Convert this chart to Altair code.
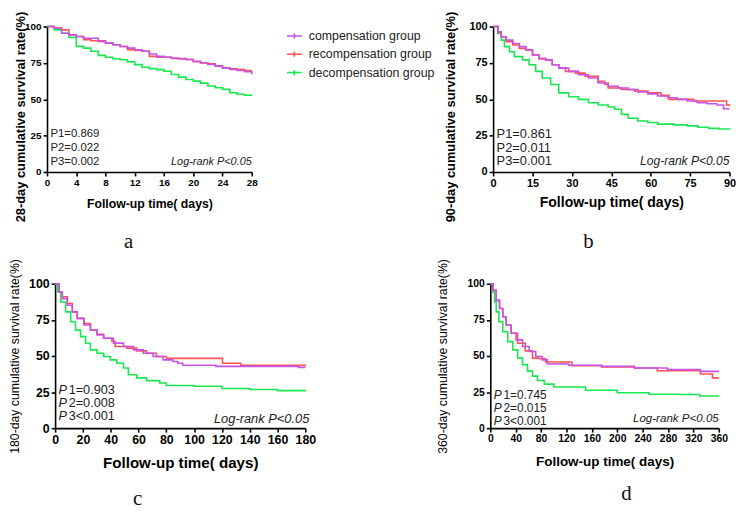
import altair as alt
import pandas as pd

GROUPS = ["compensation group", "recompensation group", "decompensation group"]
COLORS = ["#C652E8", "#FF5252", "#17E84F"]
XTITLE = "Follow-up time( days)"

# ---- panel a : 28-day ----
a_t = list(range(29))
a_comp = [100, 98.8, 95.4, 94.3, 93.2, 92, 92, 89.8, 88.6, 87.5, 86.3, 85.2, 84.1, 83, 81.1, 79.5,
          78.9, 78.4, 78, 77.3, 76.2, 75.1, 73.9, 72.8, 71.6, 70.5, 69.8, 68.9, 67.1]
a_recomp = [100, 99, 97.7, 94.3, 93.2, 90.9, 90.2, 90.2, 88.6, 87.5, 86.3, 84.1, 83.6, 83, 79.5, 78.9,
            78.9, 78, 77.7, 77.3, 75.8, 75, 74.4, 73, 71.6, 71, 70.5, 69.8, 69.8]
a_decomp = [100, 97.7, 95.4, 92.5, 86.4, 85.2, 83, 80.2, 78.9, 77.9, 77.2, 75.7, 73.8, 72, 71.1, 70.4,
            69.3, 67, 65.2, 63.6, 62.5, 61.1, 59.1, 57.9, 56.8, 54.5, 53.4, 52.8, 52.3]
a_p = ["P1=0.869", "P2=0.022", "P3=0.002"]

# ---- panel b : 90-day ----
b_comp_t = [0, 1.8, 3.1, 5, 7.5, 10, 12.5, 15, 17.5, 20, 22.5, 25, 28.8, 32.5, 36.3, 40, 43.8, 47.6,
            51.4, 55.1, 58.9, 62.6, 66.4, 70.2, 73.9, 77.7, 81.5, 85.2, 87.7, 90]
b_comp_s = [100, 96.4, 93, 90.7, 88.4, 86.2, 83.9, 80.5, 78.2, 77.1, 73.7, 71.4, 69.2, 66.9, 64.6, 61.2,
            59, 57.8, 56.7, 55.1, 53.7, 52.2, 51, 49.9, 48.8, 47.6, 46.9, 46, 43.5, 43.5]
b_recomp_t = [0, 1.8, 3.1, 5, 7.5, 10, 12.5, 15, 17.5, 20, 22.5, 25, 27.5, 31.3, 35, 40, 42.5, 43.8,
              48.8, 53.9, 58.9, 63.9, 67, 76.4, 88.9, 90]
b_recomp_s = [100, 96, 93, 89.6, 87.3, 85, 83.9, 80.5, 77.8, 77.1, 73.7, 71.4, 69.2, 68, 65.8, 62.4,
              60.1, 57.8, 56.7, 55.6, 54.4, 52.8, 49.9, 48.8, 46, 45.4]
b_decomp_t = [0, 1.8, 3.1, 4.3, 6.2, 8.1, 11.2, 13.7, 16.2, 18.7, 21.9, 25, 28.8, 32.5, 36.3, 40, 43.8,
              46.3, 48.8, 51.4, 55.1, 58.9, 62.6, 68.9, 73.9, 78, 82, 86, 90]
b_decomp_s = [100, 95.2, 90.7, 86.2, 82.7, 79.3, 77.1, 73.7, 69.2, 64.6, 60.1, 54.4, 51.7, 49.9, 47.6,
              46, 44.7, 43.1, 39.7, 37, 35.1, 34, 32.9, 32.4, 31.7, 30.8, 30, 29.5, 29]
b_p = ["P1=0.861", "P2=0.011", "P3=0.001"]

# ---- panel c : 180-day ----
c_comp_t = [0, 2.9, 5.2, 8.8, 12.4, 15.9, 20.7, 25.4, 30.2, 34.9, 42, 49.2, 56.3, 63.4, 70.5, 77.7,
            84.8, 88.3, 91.9, 115.6, 139, 175, 180]
c_comp_s = [100, 94.3, 89.7, 85.1, 80.5, 76, 71.4, 68, 64.5, 62.3, 58.9, 56.5, 54.2, 51.9, 49.6, 47.3,
            46.2, 45, 43.5, 42.8, 42.8, 42.1, 42.1]
c_recomp_t = [0, 2.9, 5.2, 8.8, 12.4, 15.9, 20.7, 25.4, 30.2, 34.9, 40.9, 43.2, 51.5, 58.7, 65.8, 72.9,
              80, 120.4, 133.5, 180]
c_recomp_s = [100, 94.3, 91, 86.3, 80.5, 76, 72.5, 68, 65, 62.3, 60, 56.5, 55.4, 53.5, 51.9, 49.6,
              48.3, 45, 43.5, 42.8]
c_decomp_t = [0, 1.7, 4.1, 7.6, 11.2, 14.7, 18.3, 21.9, 25.4, 30.2, 34.9, 39.7, 44.4, 49.2, 52.7, 58.7,
              65.8, 75.3, 80, 100, 120, 140, 160, 180]
c_decomp_s = [100, 94.3, 87.4, 80.5, 73.7, 67.9, 63.4, 58.8, 54.2, 51.9, 49.6, 47.3, 45, 41.6, 37, 34.8,
              32.9, 31.3, 29.5, 29, 27.5, 26.8, 26, 25.5]
c_p = ["1=0.903", "2=0.008", "3<0.001"]

# ---- panel d : 360-day ----
d_comp_t = [0, 4.2, 9.3, 14.5, 19.7, 24.9, 32.7, 40.5, 50.8, 61.2, 71.6, 81.9, 89.7, 123.5, 175.4,
            227.3, 279.1, 331, 360]
d_comp_s = [100, 95.4, 88.5, 82.9, 77.1, 71.4, 65.7, 61.1, 56.5, 53.1, 49.6, 47.3, 44.4, 43.5, 42.8,
            41.6, 40.5, 39.3, 39.3]
d_recomp_t = [0, 4.2, 9.3, 14.5, 19.7, 24.9, 32.7, 43, 55, 66.4, 77, 87.2, 128.6, 175, 227, 263, 331,
              350, 360]
d_recomp_s = [100, 95.4, 88.5, 82.9, 77.1, 71.4, 65.7, 58.8, 53.5, 48.5, 48.1, 45.8, 43.2, 42.3, 41.6,
              39.7, 37.5, 34.8, 34.8]
d_decomp_t = [0, 4.2, 6.7, 9.3, 13.5, 19.7, 27.5, 35.3, 43, 50.8, 58.6, 66.4, 74.2, 85, 100, 150, 200,
              250, 300, 330, 360]
d_decomp_s = [100, 94.3, 87.4, 80.5, 73.7, 66.8, 59.9, 54.2, 48.5, 43.9, 39.5, 36, 33, 30.5, 28.5, 26.3,
              24.5, 23.5, 23.3, 22.3, 22.2]
d_p = ["1=0.745", "2=0.015", "3<0.001"]

LOGRANK = "Log-rank P<0.05"
FONT = "Liberation Sans"

legend = alt.Legend(
    orient="none", legendX=242, legendY=1, title=None,
    symbolType="M-1,0L1,0M0,-0.35L0,0.35", symbolSize=225, symbolStrokeWidth=1.6,
    labelFont=FONT, labelFontSize=12.5, labelColor="#222222", labelOffset=6, rowPadding=3.5,
)


def panel(series, xmax, xticks, ytitle, ybold, w, h, tick_fs, xt_fs, yt_fs, p_fs, lr_fs,
          p_texts, p_y, lr_y, italic_p, ytx, yty, letter, letter_dx, letter_off, xt_pad, lr_dx=0):
    rows = []
    for g, ts, ss in series:
        for t, s in zip(ts, ss):
            rows.append({"group": g, "t": t, "s": s})
    df = pd.DataFrame(rows)
    xax = alt.Axis(values=xticks, title=XTITLE, labelFontSize=tick_fs, titleFontSize=xt_fs,
                   titleFont=FONT, titleFontWeight="bold", titlePadding=xt_pad, labelPadding=2,
                   labelFlush=False, labelOverlap=False)
    yax = alt.Axis(values=[0, 25, 50, 75, 100], title=ytitle, labelFontSize=tick_fs,
                   titleFontSize=yt_fs, titleFont=FONT,
                   titleFontWeight="bold" if ybold else "normal",
                   titleX=ytx, titleY=yty, titleBaseline="middle", labelPadding=2,
                   labelOverlap=False, labelFlush=False)
    xs = alt.Scale(domain=[0, xmax], nice=False)
    ys = alt.Scale(domain=[0, 100], nice=False)
    X = alt.X("t:Q", scale=xs, axis=xax)
    Y = alt.Y("s:Q", scale=ys, axis=yax)
    lines = alt.Chart(df).mark_line(interpolate="step-after", strokeWidth=1.6).encode(
        x=X, y=Y,
        color=alt.Color("group:N", scale=alt.Scale(domain=GROUPS, range=COLORS), legend=legend),
    )
    tdf = pd.DataFrame({"t": [0] * 3, "s": p_y, "txt": p_texts})
    layers = [lines]
    if italic_p:
        pdf = pd.DataFrame({"t": [0] * 3, "s": p_y, "txt": ["P"] * 3})
        layers.append(alt.Chart(pdf).mark_text(align="left", baseline="middle", dx=3.5, font=FONT,
                                               fontSize=p_fs, fontStyle="italic", color="#222").encode(
            x=X, y=Y, text="txt:N"))
        dx2 = 5.2 + 0.667 * p_fs
    else:
        dx2 = 3.5
    layers.append(alt.Chart(tdf).mark_text(align="left", baseline="middle", dx=dx2, font=FONT,
                                           fontSize=p_fs, color="#222").encode(
        x=X, y=Y, text="txt:N"))
    ldf = pd.DataFrame({"t": [xmax], "s": [lr_y], "txt": [LOGRANK]})
    layers.append(alt.Chart(ldf).mark_text(align="right", baseline="middle", dx=lr_dx, font=FONT,
                                           fontSize=lr_fs, fontStyle="italic", color="#222").encode(
        x=X, y=Y, text="txt:N"))
    return alt.layer(*layers).properties(
        width=w, height=h,
        title=alt.Title(letter, orient="bottom", font="Liberation Serif", fontSize=21,
                        fontWeight="normal", color="#111", dx=letter_dx, offset=letter_off),
    )


pa = panel([("decompensation group", a_t, a_decomp), ("recompensation group", a_t, a_recomp),
            ("compensation group", a_t, a_comp)],
           28, list(range(0, 29, 4)), "28-day cumulative survival rate(%)", True, 207, 147,
           10, 12.4, 13, 11.5, 11, a_p, [26.3, 16.7, 7], 7, False, -27, 91, "a", -21, 9, 10)
pb = panel([("decompensation group", b_decomp_t, b_decomp_s), ("recompensation group", b_recomp_t, b_recomp_s),
            ("compensation group", b_comp_t, b_comp_s)],
           90, list(range(0, 91, 15)), "90-day cumulative survival rate(%)", True, 239, 147,
           11, 14.2, 13, 13, 12.2, b_p, [26.3, 16.7, 7.3], 7.5, False, -43, 91, "b", -23, 9, 7)
pc = panel([("decompensation group", c_decomp_t, c_decomp_s), ("recompensation group", c_recomp_t, c_recomp_s),
            ("compensation group", c_comp_t, c_comp_s)],
           180, list(range(0, 181, 20)), "180-day cumulative survival rate(%)", False, 253, 146,
           12.5, 15.3, 12.4, 12.8, 13, c_p, [26.5, 17.3, 8.1], 6.2, True, -41, 73, "c", -43, 18, 9,
           lr_dx=4)
pd_ = panel([("decompensation group", d_decomp_t, d_decomp_s), ("recompensation group", d_recomp_t, d_recomp_s),
             ("compensation group", d_comp_t, d_comp_s)],
            360, list(range(0, 361, 40)), "360-day cumulative survival rate(%)", False, 231, 146,
            10.5, 13.6, 12.4, 12, 11.7, d_p, [23, 14.1, 5.2], 7.3, True, -48, 73, "d", 22, 16, 10)

top = alt.hconcat(pa, pb, spacing=244, bounds="flush")
bottom = alt.hconcat(pc, pd_, spacing=187, bounds="flush")
chart = alt.vconcat(top, bottom, spacing=6, center=True).resolve_scale(
    color="shared"
).properties(padding=0, background="white").configure_view(stroke=None).configure_axis(
    grid=False, domainColor="black", domainWidth=1.6, tickColor="black", tickWidth=1.6, tickSize=4,
    labelFont=FONT, labelFontWeight="bold", labelColor="black", titleColor="black",
)

chart.save("out.html", embed_options={"renderer": "svg", "actions": False})
